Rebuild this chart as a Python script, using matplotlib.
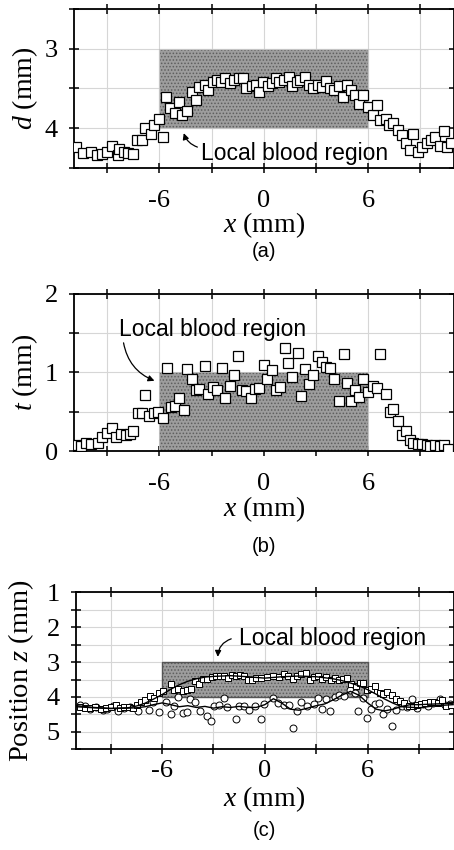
import matplotlib
matplotlib.use("Agg")
import matplotlib.pyplot as plt
from matplotlib.patches import Rectangle
from matplotlib.ticker import FixedLocator, MultipleLocator, FormatStrFormatter

plt.rcParams["font.family"] = "Liberation Serif"
plt.rcParams["mathtext.fontset"] = "custom"
plt.rcParams["mathtext.it"] = "Liberation Serif:italic"
plt.rcParams["mathtext.rm"] = "Liberation Serif"
plt.rcParams["axes.unicode_minus"] = False
plt.rcParams["hatch.linewidth"] = 0.7

# ── data ─────────────────────────────────────────────────────────────────────
# (a) depth d of the blood region top
a_x = [-10.8, -10.4, -9.9, -9.6, -9.3, -9.0, -8.7, -8.4, -8.3, -8.0,
       -7.8, -7.5, -7.3, -7.0, -6.8, -6.5, -6.3, -6.0, -5.8, -5.6,
       -5.4, -5.1, -4.85, -4.7, -4.4, -4.1, -3.9, -3.7, -3.4, -3.2,
       -2.9, -2.7, -2.45, -2.2, -1.95, -1.7, -1.4, -1.2, -1.0, -0.7,
       -0.45, -0.3, -0.05, 0.25, 0.45, 0.7, 0.9, 1.15, 1.45, 1.65,
       1.9, 2.1, 2.35, 2.6, 2.85, 3.1, 3.35, 3.6, 3.8, 4.05,
       4.3, 4.55, 4.8, 5.0, 5.25, 5.5, 5.7, 6.0, 6.3, 6.5,
       6.7, 7.0, 7.2, 7.45, 7.7, 7.95, 8.15, 8.4, 8.6, 8.85,
       9.1, 9.35, 9.6, 9.85, 10.1, 10.35, 10.55, 10.75]
a_d = [4.24, 4.32, 4.30, 4.34, 4.33, 4.30, 4.22, 4.34, 4.26, 4.30,
       4.32, 4.33, 4.15, 4.15, 4.00, 4.07, 3.96, 3.88, 4.11, 3.61,
       3.75, 3.81, 3.67, 3.84, 3.79, 3.54, 3.65, 3.48, 3.46, 3.52,
       3.42, 3.39, 3.42, 3.37, 3.43, 3.39, 3.37, 3.37, 3.49, 3.47,
       3.46, 3.54, 3.42, 3.47, 3.43, 3.37, 3.42, 3.39, 3.36, 3.47,
       3.42, 3.39, 3.35, 3.46, 3.49, 3.46, 3.48, 3.41, 3.49, 3.52,
       3.47, 3.61, 3.46, 3.52, 3.58, 3.70, 3.58, 3.73, 3.84, 3.71,
       3.90, 3.88, 3.96, 3.93, 4.03, 4.09, 4.19, 4.28, 4.07, 4.30,
       4.24, 4.19, 4.15, 4.11, 4.22, 4.04, 4.24, 4.19]

# (b) thickness t of the blood region
b_x = [-10.8, -10.5, -10.2, -9.9, -9.5, -9.3, -9.0, -8.7, -8.5, -8.2,
       -7.9, -7.7, -7.5, -7.25, -7.0, -6.8, -6.6, -6.3, -6.05, -5.8,
       -5.56, -5.3, -5.1, -4.85, -4.6, -4.4, -4.15, -3.9, -3.7, -3.4,
       -3.2, -2.9, -2.7, -2.4, -2.2, -1.95, -1.7, -1.5, -1.25, -1.0,
       -0.75, -0.5, -0.25, 0.0, 0.2, 0.45, 0.7, 0.95, 1.2, 1.4,
       1.65, 1.95, 2.15, 2.35, 2.6, 2.85, 3.1, 3.35, 3.6, 3.8,
       4.05, 4.3, 4.6, 4.8, 5.0, 5.25, 5.5, 5.7, 6.0, 6.3,
       6.5, 6.7, 7.0, 7.25, 7.45, 7.7, 7.95, 8.15, 8.4, 8.6,
       8.85, 9.1, 9.35, 9.55, 9.85, 10.1, 10.35, 10.6]
b_t = [0.08, 0.06, 0.10, 0.09, 0.10, 0.18, 0.23, 0.29, 0.18, 0.22,
       0.20, 0.22, 0.26, 0.48, 0.48, 0.71, 0.44, 0.48, 0.50, 0.42,
       1.06, 0.56, 0.57, 0.67, 0.52, 1.04, 0.92, 0.78, 0.79, 1.08,
       0.73, 0.81, 0.77, 1.05, 0.68, 0.83, 0.96, 1.21, 0.77, 0.76,
       0.67, 0.79, 0.80, 1.09, 0.91, 1.03, 0.77, 0.82, 1.31, 1.12,
       0.94, 1.24, 0.70, 1.04, 0.85, 0.96, 1.21, 1.13, 1.07, 1.06,
       0.92, 0.63, 1.23, 0.86, 0.64, 0.77, 0.69, 0.91, 0.75, 0.83,
       0.80, 1.23, 0.73, 0.50, 0.53, 0.38, 0.20, 0.26, 0.14, 0.10,
       0.09, 0.09, 0.08, 0.06, 0.08, 0.06, 0.07, 0.02]

# (c) top (squares) and bottom (circles) positions z
c_sq_x = [-10.8, -10.5, -10.2, -9.9, -9.6, -9.3, -9.0, -8.7, -8.45, -8.2,
          -7.95, -7.7, -7.45, -7.22, -7.0, -6.7, -6.45, -6.2, -5.96, -5.5,
          -5.28, -5.05, -4.8, -4.56, -4.33, -4.09, -3.84, -3.6, -3.36, -3.11,
          -2.87, -2.64, -2.4, -2.17, -1.9, -1.7, -1.44, -1.2, -0.98, -0.75,
          -0.5, -0.22, 0.1, 0.47, 0.8, 1.09, 1.36, 1.67, 1.9, 2.14,
          2.4, 2.64, 2.87, 3.1, 3.36, 3.6, 3.84, 4.08, 4.33, 4.56,
          4.8, 5.05, 5.3, 5.53, 5.74, 5.96, 6.2, 6.45, 6.7, 6.92,
          7.15, 7.4, 7.65, 7.88, 8.13, 8.4, 8.65, 8.9, 9.15, 9.38,
          9.63, 9.86, 10.1, 10.35, 10.6, 10.87]
c_sq_z = [4.28, 4.32, 4.33, 4.30, 4.35, 4.33, 4.30, 4.22, 4.32, 4.28,
          4.30, 4.33, 4.22, 4.15, 4.10, 3.98, 4.03, 3.90, 3.84, 3.62,
          3.79, 3.77, 3.83, 3.81, 3.77, 3.55, 3.64, 3.49, 3.49, 3.43,
          3.39, 3.41, 3.39, 3.46, 3.36, 3.39, 3.36, 3.41, 3.50, 3.52,
          3.46, 3.46, 3.44, 3.40, 3.44, 3.34, 3.39, 3.48, 3.39, 3.34,
          3.32, 3.52, 3.44, 3.41, 3.48, 3.44, 3.50, 3.46, 3.52, 3.48,
          3.46, 3.62, 3.69, 3.60, 3.60, 3.79, 3.77, 3.69, 3.88, 3.91,
          3.86, 3.93, 4.05, 4.12, 4.17, 4.27, 4.27, 4.22, 4.20, 4.17,
          4.15, 4.13, 4.17, 4.10, 4.27, 4.22]
c_ci_x = [-10.8, -10.5, -10.2, -9.85, -9.45, -9.2, -8.87, -8.58, -8.2, -7.9,
          -7.4, -6.74, -6.54, -6.2, -5.77, -5.5, -5.28, -5.05, -4.8, -4.56,
          -4.36, -4.09, -3.78, -3.4, -3.16, -2.97, -2.7, -2.4, -2.2, -1.69,
          -1.5, -1.2, -0.9, -0.6, -0.23, -0.04, 0.45, 0.74, 1.09, 1.42,
          1.67, 1.86, 2.14, 2.49, 2.87, 3.1, 3.36, 3.6, 3.8, 4.08,
          4.33, 4.6, 4.97, 5.24, 5.45, 5.72, 5.94, 6.2, 6.45, 6.65,
          6.9, 7.14, 7.4, 7.67, 8.0, 8.3, 8.6, 8.9, 9.24, 9.55,
          9.85, 10.25, 10.53, 10.83]
c_ci_z = [4.22, 4.27, 4.34, 4.30, 4.36, 4.34, 4.27, 4.41, 4.32, 4.30,
          4.41, 4.37, 4.13, 4.44, 4.13, 4.49, 4.27, 4.00, 4.46, 4.44,
          4.06, 4.13, 4.41, 4.55, 4.68, 4.27, 4.22, 4.03, 4.30, 4.63,
          4.27, 4.27, 4.36, 4.27, 4.62, 4.19, 4.03, 4.17, 4.22, 4.22,
          4.89, 4.41, 4.13, 4.25, 4.19, 4.03, 4.34, 4.06, 4.39, 4.00,
          3.93, 3.96, 3.81, 3.88, 4.41, 4.03, 4.60, 4.34, 4.19, 4.17,
          4.50, 4.34, 4.84, 4.36, 4.27, 4.30, 4.06, 4.31, 4.19, 4.25,
          4.17, 4.06, 4.22, 4.19]

# smoothed curves drawn through the (c) points
c_sq_fit_x = [-11, -10, -9, -8, -7.5, -7, -6.5, -6, -5.5, -5,
              -4.5, -4, -3.5, -3, -2, -1, 0, 1, 2, 3,
              4, 4.5, 5, 5.5, 6, 6.5, 7, 7.5, 8, 9, 10, 11]
c_sq_fit_z = [4.28, 4.31, 4.33, 4.31, 4.26, 4.18, 4.06, 3.93, 3.78, 3.65,
              3.55, 3.48, 3.43, 3.41, 3.39, 3.42, 3.46, 3.42, 3.40, 3.42,
              3.48, 3.53, 3.60, 3.68, 3.79, 3.92, 4.06, 4.18, 4.28, 4.31, 4.25, 4.22]
c_ci_fit_x = [-11, -10, -9, -8, -7.5, -7, -6.5, -6, -5.5, -5,
              -4.5, -4, -3.5, -3, -2.5, -2, -1.5, -1, -0.5, 0,
              0.5, 1, 1.5, 2, 2.5, 3, 3.5, 4, 4.5, 5,
              5.5, 6, 6.5, 7, 7.5, 8, 8.5, 9, 10, 11]
c_ci_fit_z = [4.25, 4.30, 4.33, 4.32, 4.31, 4.28, 4.22, 4.17, 4.22, 4.28,
              4.25, 4.30, 4.27, 4.32, 4.28, 4.30, 4.27, 4.30, 4.30, 4.22,
              4.05, 4.18, 4.35, 4.38, 4.32, 4.25, 4.20, 4.08, 3.95, 3.84,
              3.95, 4.17, 4.35, 4.40, 4.35, 4.27, 4.22, 4.22, 4.20, 4.18]

region_x = (-6, 6)
label = "Local blood region"

# ── figure ───────────────────────────────────────────────────────────────────
W, H = 454, 850
fig = plt.figure(figsize=(W / 100, H / 100), dpi=100)


def add_ax(l, t, r, b):
    return fig.add_axes([l / W, 1 - b / H, (r - l) / W, (b - t) / H])


def style(ax, xlim, ylim, xpad):
    ax.set_xlim(xlim)
    ax.set_ylim(ylim)
    ax.xaxis.set_major_locator(FixedLocator([-6, 0, 6]))
    ax.xaxis.set_minor_locator(FixedLocator([-9, -3, 3, 9]))
    ax.yaxis.set_major_locator(MultipleLocator(1))
    ax.yaxis.set_minor_locator(MultipleLocator(0.5))
    ax.yaxis.set_major_formatter(FormatStrFormatter("%g"))
    ax.grid(True, which="both", color="#d6d6d6", lw=0.8)
    ax.set_axisbelow(True)
    ax.tick_params(which="both", direction="inout", top=True, right=True,
                   length=7, width=1.1, labelsize=19)
    ax.tick_params(axis="x", pad=xpad)
    ax.tick_params(axis="y", pad=8)
    for s in ax.spines.values():
        s.set_linewidth(1.3)


def region(ax, y0, y1, edge, lw):
    ax.add_patch(Rectangle((region_x[0], y0), region_x[1] - region_x[0], y1 - y0,
                           facecolor="#9d9d9d", edgecolor="none", zorder=1))
    ax.add_patch(Rectangle((region_x[0], y0), region_x[1] - region_x[0], y1 - y0,
                           fill=False, hatch=".....", edgecolor="#5e5e5e", lw=0, zorder=1.1))
    ax.add_patch(Rectangle((region_x[0], y0), region_x[1] - region_x[0], y1 - y0,
                           fill=False, edgecolor=edge, lw=lw, zorder=1.2))


def note(ax, txt_xy, tail, head, rad):
    ax.text(*txt_xy, label, family="Liberation Sans", fontsize=16.5,
            ha="center", va="center", zorder=5)
    ax.annotate("", xy=head, xytext=tail, zorder=5,
                arrowprops=dict(arrowstyle="-|>", color="k", lw=0.9,
                                mutation_scale=9,
                                connectionstyle=f"arc3,rad={rad}"))


sq = dict(ls="none", marker="s", mfc="white", mec="black", zorder=3)

# (a)
ax1 = add_ax(74, 9.3, 453.5, 167.7)
style(ax1, (-10.9, 10.9), (4.5, 2.5), xpad=12.5)
region(ax1, 3, 4, "#c4c4c4", 0.8)
ax1.plot(a_x, a_d, ms=6.5, mew=0.9, **sq)
note(ax1, (1.79, 4.32), (-3.66, 4.25), (-4.64, 4.03), -0.3)

# (b)
ax2 = add_ax(74, 293.7, 453.5, 451)
style(ax2, (-10.9, 10.9), (0, 2), xpad=12.5)
region(ax2, 0, 1, "#c4c4c4", 0.6)
ax2.plot(b_x, b_t, ms=6.5, mew=0.9, **sq)
note(ax2, (-2.92, 1.54), (-8.08, 1.41), (-6.13, 0.88), 0.3)

# (c)
ax3 = add_ax(75.7, 592.3, 454, 749.3)
style(ax3, (-11.05, 11.05), (5.5, 1), xpad=4)
region(ax3, 3, 4, "#555555", 1.0)
ax3.plot(c_ci_x, c_ci_z, ls="none", marker="o", ms=5, mfc="white", mec="black",
         mew=0.7, zorder=3)
ax3.plot(c_sq_x, c_sq_z, ms=3.8, mew=0.7, **sq)
ax3.plot(c_sq_fit_x, c_sq_fit_z, color="black", lw=1.0, zorder=4)
ax3.plot(c_ci_fit_x, c_ci_fit_z, color="black", lw=1.0, zorder=4)
note(ax3, (3.96, 2.33), (-1.81, 2.31), (-2.75, 2.93), 0.4)

# axis labels and panel tags
lab_kw = dict(fontsize=20, ha="center", va="center")
fig.text(264 / W, 1 - 225 / H, "$x$ (mm)", **lab_kw)
fig.text(264 / W, 1 - 509 / H, "$x$ (mm)", **lab_kw)
fig.text(264 / W, 1 - 799 / H, "$x$ (mm)", **lab_kw)
fig.text(25 / W, 1 - 88 / H, "$d$ (mm)", rotation=90, **lab_kw)
fig.text(25 / W, 1 - 372 / H, "$t$ (mm)", rotation=90, **lab_kw)
fig.text(21 / W, 1 - 671 / H, "Position $z$ (mm)", rotation=90,
         **dict(lab_kw, fontsize=20.5))

tag_kw = dict(family="Liberation Sans", fontsize=14.5, ha="center", va="center")
fig.text(264 / W, 1 - 252 / H, "(a)", **tag_kw)
fig.text(264 / W, 1 - 546 / H, "(b)", **tag_kw)
fig.text(264 / W, 1 - 831 / H, "(c)", **tag_kw)

fig.savefig("out.png", dpi=100)
